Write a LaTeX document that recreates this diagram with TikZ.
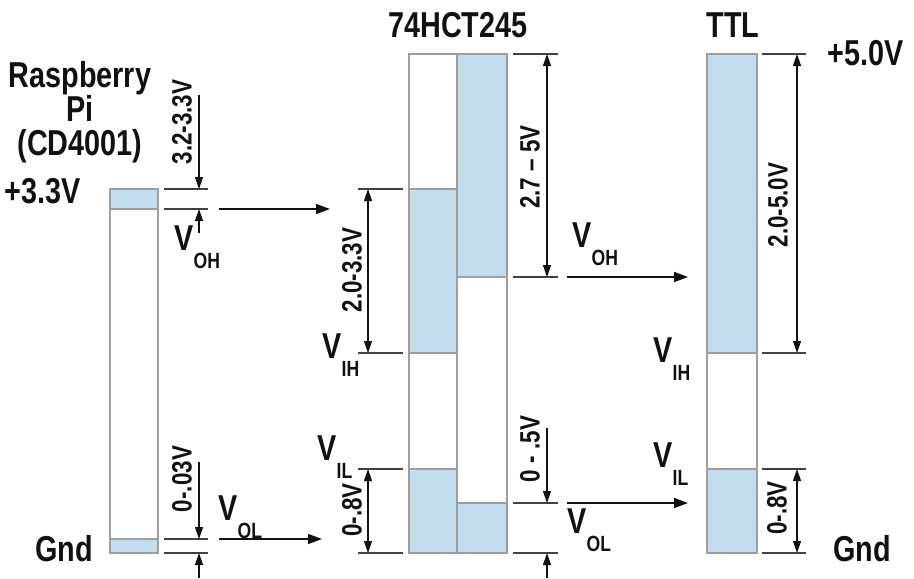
\documentclass[tikz,border=0pt]{standalone}
\usepackage{fontspec}
\setmainfont{Liberation Sans}[FakeStretch=0.8]
\usetikzlibrary{arrows.meta}
\definecolor{lvl}{HTML}{C3DDEE}
\definecolor{barln}{HTML}{9E9E9E}
\definecolor{ink}{HTML}{111111}
\newcommand{\vsub}[1]{V\raisebox{-0.5em}{\fontsize{11}{12}\selectfont #1}}

\begin{document}
\begin{tikzpicture}[x=0.5pt,y=-0.5pt,
  big/.style={font=\fontsize{18}{17}\selectfont\bfseries,ink,inner sep=0pt},
  vlab/.style={font=\fontsize{18}{17}\selectfont\bfseries,ink,inner sep=0pt,anchor=base west},
  dimtxt/.style={font=\fontsize{14}{14}\selectfont\bfseries,ink,rotate=90,inner sep=0pt},
  tickln/.style={ink!80,line width=0.7pt},
  dimln/.style={ink,line width=0.6pt,{Triangle[length=6pt,width=4pt]}-{Triangle[length=6pt,width=4pt]}},
  oneway/.style={ink,line width=0.6pt,-{Triangle[length=6pt,width=4pt]}},
  flow/.style={ink,line width=0.8pt,-{Triangle[length=7pt,width=5pt]}},
  bar/.style={draw=barln,line width=0.9pt}]
\useasboundingbox (0,0) rectangle (914,578);

% level bars
\foreach \xa/\xb/\ya/\yb in {110/158/189/209, 110/158/539/553,
    409/457/189/353, 409/457/469/553, 457/507/54/277, 457/507/503/553,
    707/757/54/353, 707/757/469/553}
  \fill[lvl] (\xa,\ya) rectangle (\xb,\yb);
\foreach \xa/\xb/\ya in {110/158/189, 409/457/54, 457/507/54, 707/757/54}
  \draw[bar] (\xa,\ya) rectangle (\xb,553);
\foreach \xa/\xb/\y in {110/158/209, 110/158/539, 409/457/189, 409/457/353,
    409/457/469, 457/507/277, 457/507/503, 707/757/353, 707/757/469}
  \draw[bar] (\xa,\y) -- (\xb,\y);

% tick lines
\foreach \xa/\xb/\y in {164/208/189, 164/208/209, 164/208/539, 164/208/553,
    358/403/189, 358/403/353, 358/403/469, 358/403/553,
    513/558/54, 513/558/277, 513/558/503, 513/558/553,
    762/806/54, 762/806/353, 762/806/469, 762/806/553}
  \draw[tickln] (\xa,\y) -- (\xb,\y);

% dimension points
\foreach \nm/\x/\y in {piH/199/189, piL/199/209, piOa/199/539, piOb/199/553,
    piT/199/95, piU/199/233, piV/199/462, piW/199/578,
    inA/368/189, inB/368/353, inC/368/469, inD/368/553,
    outA/547/54, outB/547/277, outC/547/503, outD/547/553,
    outV/547/428, outW/547/578,
    ttA/797/54, ttB/797/353, ttC/797/469, ttD/797/553,
    f1s/219/209, f1e/330/209, f2s/219/539, f2e/322/539,
    f3s/567/277, f3e/688/277, f4s/567/503, f4e/688/503}
  \coordinate (\nm) at (\x,\y);

\draw[oneway] (piT) -- (piH);
\draw[oneway] (piU) -- (piL);
\draw[oneway] (piV) -- (piOa);
\draw[oneway] (piW) -- (piOb);
\draw[dimln] (inA) -- (inB);
\draw[dimln] (inC) -- (inD);
\draw[dimln] (outA) -- (outB);
\draw[oneway] (outV) -- (outC);
\draw[oneway] (outW) -- (outD);
\draw[dimln] (ttA) -- (ttB);
\draw[dimln] (ttC) -- (ttD);

\draw[flow] (f1s) -- (f1e);
\draw[flow] (f2s) -- (f2e);
\draw[flow] (f3s) -- (f3e);
\draw[flow] (f4s) -- (f4e);

% titles
\node[big,anchor=north,align=center] (rpi) at (80,61) {Raspberry\\Pi\\(CD4001)};
\node[big,anchor=base west] (v33) at (4,203) {+3.3V};
\node[big,anchor=base west] (gndl) at (35,561) {Gnd};
\node[big,anchor=base] (hct) at (458,37) {74HCT245};
\node[big,anchor=base] (ttl) at (733,37) {TTL};
\node[big,anchor=base west] (v50) at (827,65) {+5.0V};
\node[big,anchor=base west] (gndr) at (833,561) {Gnd};

% V labels
\node[vlab] (pioh) at (174,250) {\vsub{OH}};
\node[vlab] (piol) at (218,520) {\vsub{OL}};
\node[vlab] (inih) at (322,358) {\vsub{IH}};
\node[vlab] (inil) at (317,460) {\vsub{IL}};
\node[vlab] (outoh) at (572,247) {\vsub{OH}};
\node[vlab] (outol) at (567,533) {\vsub{OL}};
\node[vlab] (ttih) at (653,362) {\vsub{IH}};
\node[vlab] (ttil) at (653,467) {\vsub{IL}};

% range labels
\node[dimtxt] (r1) at (182,122) {3.2-3.3V};
\node[dimtxt] (r2) at (182,479) {0-.03V};
\node[dimtxt] (r3) at (352,270) {2.0-3.3V};
\node[dimtxt] (r4) at (352,510) {0-.8V};
\node[dimtxt] (r5) at (530,167) {2.7 – 5V};
\node[dimtxt] (r6) at (530,449) {0 - .5V};
\node[dimtxt] (r7) at (778,205) {2.0-5.0V};
\node[dimtxt] (r8) at (777,508) {0-.8V};
\end{tikzpicture}
\end{document}
